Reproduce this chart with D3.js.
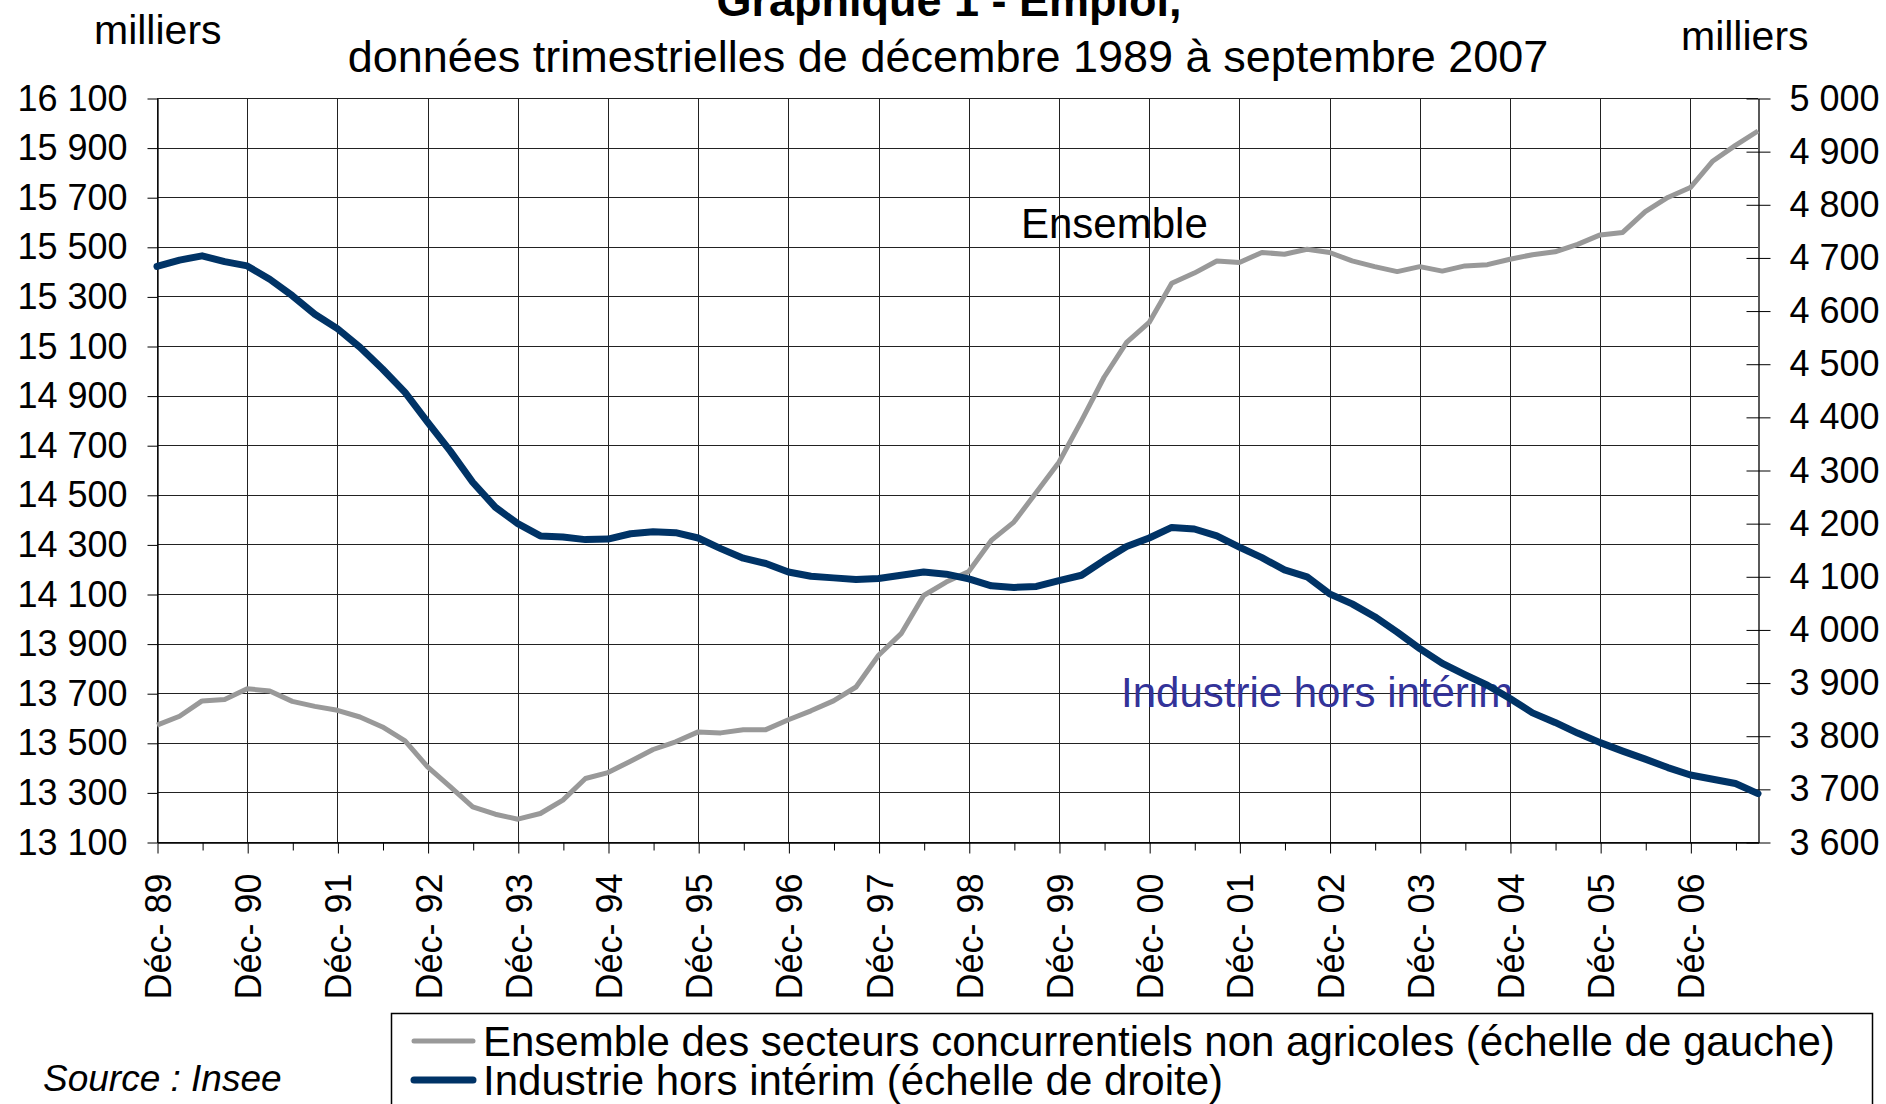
<!DOCTYPE html>
<html>
<head>
<meta charset="utf-8">
<script src="https://cdn.jsdelivr.net/npm/d3@7"></script>
<style>
body{margin:0;background:#fff;}
svg{display:block;font-family:"Liberation Sans",Arial,sans-serif;}
</style>
</head>
<body>
<svg id="chart"></svg>
<script>
// Graphique 1 - Emploi : deux series trimestrielles, deux echelles

let quarters = [
	"Déc-89",
	"Mars-90","Juin-90","Sept-90","Déc-90",
	"Mars-91","Juin-91","Sept-91","Déc-91",
	"Mars-92","Juin-92","Sept-92","Déc-92",
	"Mars-93","Juin-93","Sept-93","Déc-93",
	"Mars-94","Juin-94","Sept-94","Déc-94",
	"Mars-95","Juin-95","Sept-95","Déc-95",
	"Mars-96","Juin-96","Sept-96","Déc-96",
	"Mars-97","Juin-97","Sept-97","Déc-97",
	"Mars-98","Juin-98","Sept-98","Déc-98",
	"Mars-99","Juin-99","Sept-99","Déc-99",
	"Mars-00","Juin-00","Sept-00","Déc-00",
	"Mars-01","Juin-01","Sept-01","Déc-01",
	"Mars-02","Juin-02","Sept-02","Déc-02",
	"Mars-03","Juin-03","Sept-03","Déc-03",
	"Mars-04","Juin-04","Sept-04","Déc-04",
	"Mars-05","Juin-05","Sept-05","Déc-05",
	"Mars-06","Juin-06","Sept-06","Déc-06",
	"Mars-07","Juin-07","Sept-07"
];

// Ensemble des secteurs concurrentiels non agricoles (milliers, echelle de gauche)
let ensemble = [
	13571,
	13607, 13669, 13675, 13718,
	13709, 13667, 13647, 13631,
	13604, 13564, 13508, 13403,
	13323, 13242, 13212, 13192,
	13215, 13269, 13356, 13380,
	13426, 13473, 13504, 13544,
	13540, 13553, 13553, 13593,
	13629, 13669, 13725, 13853,
	13940, 14094, 14148, 14191,
	14316, 14390, 14510, 14631,
	14799, 14974, 15115, 15195,
	15353, 15394, 15443, 15437,
	15477, 15470, 15490, 15477,
	15443, 15420, 15400, 15420,
	15402, 15423, 15428, 15450,
	15468, 15480, 15510, 15548,
	15558, 15642, 15699, 15739,
	15846, 15909, 15967
];

// Industrie hors interim (milliers, echelle de droite)
let industrie = [
	4683,
	4695, 4703, 4692, 4684,
	4659, 4628, 4593, 4566,
	4531, 4490, 4446, 4390,
	4336, 4277, 4230, 4199,
	4176, 4174, 4169, 4170,
	4180, 4184, 4182, 4172,
	4152, 4134, 4124, 4108,
	4100, 4097, 4094, 4096,
	4102, 4108, 4104, 4095,
	4082, 4079, 4081, 4092,
	4102, 4130, 4156, 4172,
	4192, 4189, 4176, 4155,
	4135, 4112, 4099, 4067,
	4048, 4024, 3995, 3964,
	3936, 3915, 3895, 3870,
	3843, 3825, 3805, 3787,
	3771, 3756, 3740, 3726,
	3718, 3710, 3691
];

let leftTicks = [13100, 13300, 13500, 13700, 13900, 14100, 14300, 14500, 14700, 14900, 15100, 15300, 15500, 15700, 15900, 16100];
let rightTicks = [3600, 3700, 3800, 3900, 4000, 4100, 4200, 4300, 4400, 4500, 4600, 4700, 4800, 4900, 5000];

let seriesNames = [
	"Ensemble des secteurs concurrentiels non agricoles (échelle de gauche)",
	"Industrie hors intérim (échelle de droite)"
];

const svgW = 1886, svgH = 1104;
const plotLeft = 157, plotRight = 1758, plotTop = 98, plotBottom = 842;
const gray = "#999999", navy = "#003366";

let svg = d3.select("#chart").attr("width", svgW).attr("height", svgH);

let fr = d3.formatLocale({decimal: ",", thousands: " ", grouping: [3], currency: ["", " €"]});
let fmt = fr.format(",d");

let x = d3.scalePoint().domain(quarters).range([plotLeft, plotRight]);
let yL = d3.scaleLinear().domain([13100, 16100]).range([plotBottom, plotTop]);
let yR = d3.scaleLinear().domain([3600, 5000]).range([plotBottom, plotTop]);

let decQuarters = quarters.filter(q => q.startsWith("Déc"));

// grid
svg.append("g")
	.selectAll("line")
	.data(leftTicks)
	.join("line")
	.attr("x1", plotLeft).attr("x2", plotRight)
	.attr("y1", d => Math.round(yL(d)) + 0.5).attr("y2", d => Math.round(yL(d)) + 0.5)
	.attr("stroke", "#222").attr("stroke-width", 1);

svg.append("g")
	.selectAll("line")
	.data(decQuarters)
	.join("line")
	.attr("x1", d => Math.round(x(d)) + 0.5).attr("x2", d => Math.round(x(d)) + 0.5)
	.attr("y1", plotTop).attr("y2", plotBottom)
	.attr("stroke", "#222").attr("stroke-width", 1);

// axes
let axisL = svg.append("g")
	.attr("transform", "translate(" + (plotLeft + 0.5) + ",0.5)")
	.call(d3.axisLeft(yL).tickValues(leftTicks).tickSize(10).tickSizeOuter(0).tickPadding(20).tickFormat(fmt));

let axisR = svg.append("g")
	.attr("transform", "translate(" + (plotRight + 0.5) + ",0.5)")
	.call(d3.axisRight(yR).tickValues(rightTicks).tickSize(12).tickSizeOuter(0).tickPadding(19).tickFormat(fmt));
axisR.selectAll(".tick line").attr("x1", -12);

let axisX = svg.append("g")
	.attr("transform", "translate(0.5," + (plotBottom + 0.5) + ")")
	.call(d3.axisBottom(x)
		.tickValues(quarters.filter((q, i) => i % 2 == 0))
		.tickSize(11).tickSizeOuter(0)
		.tickFormat(q => q.startsWith("Déc") ? "Déc- " + q.slice(4) : ""));
axisX.selectAll(".tick line").attr("y2", q => q.startsWith("Déc") ? 11 : 8);
axisX.selectAll(".tick text")
	.attr("transform", "rotate(-90)")
	.attr("text-anchor", "end")
	.attr("x", -31).attr("y", 0).attr("dy", "0.36em");

svg.selectAll(".domain").attr("stroke", "#000").attr("stroke-width", 1.3);
svg.selectAll(".tick line").attr("stroke", "#000").attr("stroke-width", 1);
svg.selectAll(".tick text").attr("fill", "#000").style("font-size", "36px").style("font-family", "'Liberation Sans', Arial, sans-serif");

// series labels in the plot
svg.append("text").attr("x", 1021).attr("y", 238)
	.style("font-size", "42px").attr("fill", "#000").text("Ensemble");
svg.append("text").attr("x", 1121).attr("y", 707)
	.style("font-size", "42px").attr("fill", "#333399").text("Industrie hors intérim");

// lines
let lineL = d3.line().x((d, i) => x(quarters[i])).y(d => yL(d));
let lineR = d3.line().x((d, i) => x(quarters[i])).y(d => yR(d));

svg.append("path").datum(ensemble)
	.attr("d", lineL)
	.attr("fill", "none").attr("stroke", gray).attr("stroke-width", 5)
	.attr("stroke-linejoin", "round");

svg.append("path").datum(industrie)
	.attr("d", lineR)
	.attr("fill", "none").attr("stroke", navy).attr("stroke-width", 7)
	.attr("stroke-linejoin", "round").attr("stroke-linecap", "round");

// titles
svg.append("text").attr("x", 949).attr("y", 16).attr("text-anchor", "middle")
	.style("font-size", "45px").style("font-weight", "bold").text("Graphique 1 - Emploi,");
svg.append("text").attr("x", 948).attr("y", 72).attr("text-anchor", "middle")
	.style("font-size", "45px").text("données trimestrielles de décembre 1989 à septembre 2007");
svg.append("text").attr("x", 94).attr("y", 44).style("font-size", "41px").text("milliers");
svg.append("text").attr("x", 1681).attr("y", 50).style("font-size", "41px").text("milliers");

// legend
let legend = svg.append("g");
legend.append("rect")
	.attr("x", 391.5).attr("y", 1013.5).attr("width", 1481).attr("height", 140)
	.attr("fill", "#fff").attr("stroke", "#000").attr("stroke-width", 1.5);
let items = legend.selectAll("g.item")
	.data(seriesNames)
	.join("g").attr("class", "item")
	.attr("transform", (d, i) => "translate(0," + (i == 0 ? 1041 : 1080) + ")");
items.append("line")
	.attr("x1", 414).attr("x2", 473)
	.attr("stroke", (d, i) => i == 0 ? gray : navy)
	.attr("stroke-width", (d, i) => i == 0 ? 5 : 7)
	.attr("stroke-linecap", "round");
items.append("text")
	.attr("x", 483).attr("y", 15)
	.style("font-size", "42px")
	.text(d => d);

svg.append("text").attr("x", 43).attr("y", 1091)
	.style("font-size", "37px").style("font-style", "italic").text("Source : Insee");
</script>
</body>
</html>
